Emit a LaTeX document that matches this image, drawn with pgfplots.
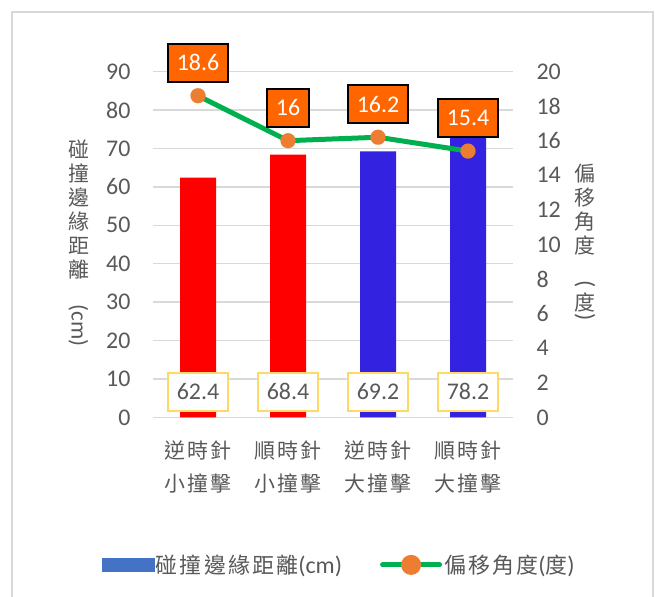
\documentclass[border=0pt]{standalone}
\usepackage{fontspec}
\setmainfont{Carlito}
\newfontfamily\cjk[LetterSpace=10]{Noto Sans CJK TC}
\usepackage{pgfplots}
\pgfplotsset{compat=1.18}
\definecolor{txt}{HTML}{595959}
\definecolor{gridc}{HTML}{D9D9D9}
\definecolor{barred}{HTML}{FF0000}
\definecolor{barblue}{HTML}{3322E0}
\definecolor{legblue}{HTML}{4472C4}
\definecolor{linegreen}{HTML}{00B050}
\definecolor{mkorange}{HTML}{ED7D31}
\definecolor{lblorange}{HTML}{FF6600}
\definecolor{lblyellow}{HTML}{FFD966}
\begin{document}
\begin{tikzpicture}
\useasboundingbox (0,0) rectangle (655bp,597bp);
\fill[white] (0,0) rectangle (655bp,597bp);
\draw[gridc, line width=2bp] (12bp,0) -- (12bp,585bp) -- (653bp,585bp) -- (653bp,0);
\begin{axis}[
  at={(153bp,179.5bp)}, anchor=south west,
  scale only axis, width=360bp, height=346bp,
  xmin=-0.5, xmax=3.5, ymin=0, ymax=90,
  axis line style={draw=none},
  major tick length=0pt,
  ytick={0,10,...,90},
  ymajorgrids, grid style={gridc, line width=1.5bp},
  xtick={0,1,2,3},
  xticklabels={{逆時針\\小撞擊},{順時針\\小撞擊},{逆時針\\大撞擊},{順時針\\大撞擊}},
  xticklabel style={font=\cjk\fontsize{21}{33}\selectfont, align=center, text=txt, yshift=-20bp},
  yticklabel style={font=\fontsize{24}{28}\selectfont, text=txt, xshift=-19bp},
  /pgf/number format/assume math mode=true,
  every axis y label/.style={at={(axis description cs:-0.207,0.498)}, anchor=center},
  ylabel={碰\\撞\\邊\\緣\\距\\離\\\rotatebox{-90}{\fontsize{23}{24}\selectfont\normalfont\,(cm)\,}},
  ylabel style={font=\cjk\fontsize{21}{24}\selectfont, align=center, text=txt},
]
\addplot[ybar, bar width=36bp, bar shift=0pt, fill=barred, draw=none] coordinates {(0,62.4) (1,68.4)};
\addplot[ybar, bar width=36bp, bar shift=0pt, fill=barblue, draw=none] coordinates {(2,69.2) (3,78.2)};
\addplot[draw=none, mark=none, nodes near coords, point meta=explicit symbolic,
  nodes near coords style={anchor=center, fill=white, draw=lblyellow, line width=2bp, text=txt,
    font=\fontsize{24}{28}\selectfont, minimum height=38bp, inner xsep=9bp}]
  coordinates {(0,6.7)[62.4] (1,6.7)[68.4] (2,6.7)[69.2] (3,6.7)[78.2]};
\end{axis}
\begin{axis}[
  at={(153bp,179.5bp)}, anchor=south west,
  scale only axis, width=360bp, height=346bp,
  xmin=-0.5, xmax=3.5, ymin=0, ymax=20,
  axis x line=none, axis y line*=right,
  axis line style={draw=none},
  major tick length=0pt,
  ytick={0,2,...,20},
  yticklabel style={font=\fontsize{24}{28}\selectfont, text=txt, xshift=20bp},
  /pgf/number format/assume math mode=true,
  every axis y label/.style={at={(axis description cs:1.2,0.505)}, anchor=center},
  ylabel={偏\\移\\角\\度\\[2.5bp]\rotatebox{-90}{\normalfont\fontsize{24}{24}\selectfont(}\\[4.5bp]度\\[-20.5bp]\rotatebox{-90}{\normalfont\fontsize{24}{24}\selectfont)}},
  ylabel style={font=\cjk\fontsize{21}{24}\selectfont, align=center, text=txt},
  legend style={at={(0.517,-0.426)}, anchor=center, draw=none, fill=none,
    font=\fontsize{24}{28}\selectfont, text=txt, legend columns=2,
    /tikz/every even column/.append style={column sep=36bp}},
]
\addlegendimage{legend image code/.code={\fill[legblue] (0bp,-6.5bp) rectangle (52bp,6.5bp);}}
\addlegendentry{{\cjk\fontsize{22}{28}\selectfont 碰撞邊緣距離}(cm)}
\addplot[linegreen, line width=5bp, mark=*, mark size=7.5bp,
  mark options={fill=mkorange, draw=mkorange, line width=0.1bp},
  legend image code/.code={\draw[linegreen, line width=5bp, line cap=round] (0bp,0bp)--(57bp,0bp);
    \fill[mkorange] (28.5bp,0bp) circle (7.5bp);},
  nodes near coords, point meta=explicit symbolic,
  nodes near coords style={anchor=center, yshift=33bp, fill=lblorange, draw=black, line width=2bp, text=white,
    font=\fontsize{24}{28}\selectfont, minimum height=38bp, inner xsep=9bp}]
  coordinates {(0,18.6)[18.6] (1,16)[16] (2,16.2)[16.2] (3,15.4)[15.4]};
\addlegendentry{{\cjk\fontsize{22}{28}\selectfont 偏移角度}({\cjk\fontsize{22}{28}\selectfont 度})}
\end{axis}
\end{tikzpicture}
\end{document}
